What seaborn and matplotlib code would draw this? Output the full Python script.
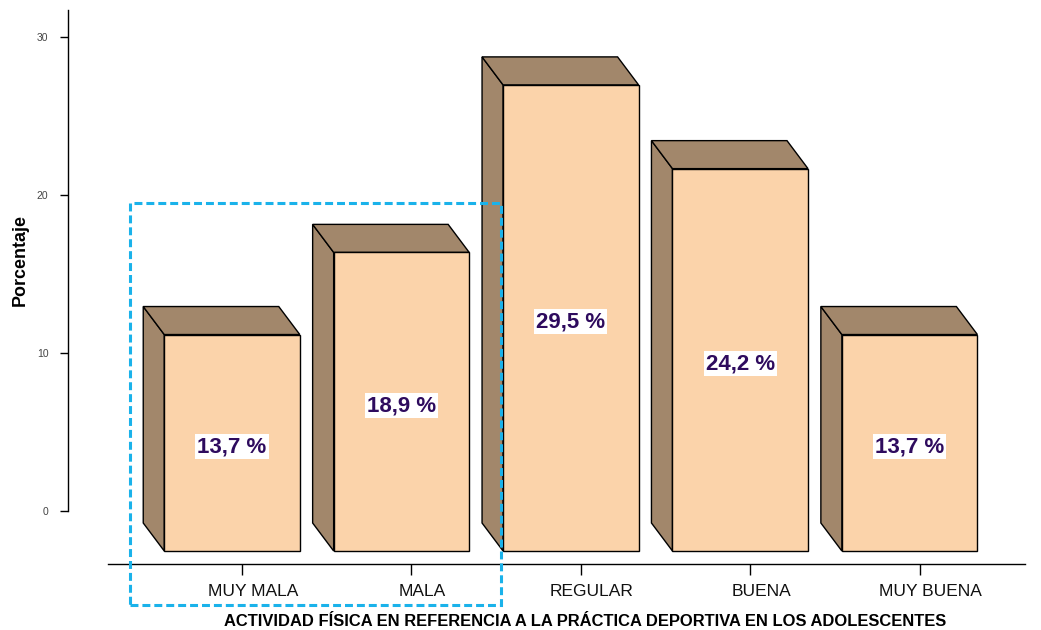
import matplotlib
matplotlib.use("Agg")
import matplotlib.pyplot as plt
import matplotlib.transforms as mtransforms
from matplotlib.patches import Polygon, Rectangle
import seaborn as sns
import pandas as pd

categories = ["MUY MALA", "MALA", "REGULAR", "BUENA", "MUY BUENA"]
values = [13.7, 18.9, 29.5, 24.2, 13.7]
y_ticks = [0, 10, 20, 30]
x_title = "ACTIVIDAD FÍSICA EN REFERENCIA A LA PRÁCTICA DEPORTIVA EN LOS ADOLESCENTES"
y_title = "Porcentaje"

sns.set_style("white")
plt.rcParams["font.family"] = ["Liberation Sans", "DejaVu Sans"]

W, H = 1041, 630
fig = plt.figure(figsize=(W / 100, H / 100), dpi=100)

FRONT = "#FBD3AA"
SIDE = "#A2876B"

# main axes (bars + category axis)
ax = fig.add_axes([108 / W, 66 / H, (1025 - 108) / W, (564 - 10) / H])
df = pd.DataFrame({"cat": categories, "val": values})
sns.barplot(data=df, x="cat", y="val", order=categories, color=FRONT,
            saturation=1, edgecolor="black", linewidth=1.0, width=0.8,
            ax=ax, zorder=3)
ax.set_xlim(-0.732, 4.681)
ax.set_ylim(-0.823, 34.24)

dx, dy = -0.124, 1.772  # 3D depth offset
down = mtransforms.ScaledTranslation(0, -4 / 100, fig.dpi_scale_trans)
for p, v in zip(ax.patches, values):
    x0 = p.get_x()
    x1 = x0 + p.get_width()
    h = p.get_height()
    side = Polygon([(x0, 0), (x0 + dx, dy), (x0 + dx, h + dy), (x0, h)],
                   closed=True, facecolor=SIDE, edgecolor="black", lw=1.0, zorder=2)
    top = Polygon([(x0, h), (x0 + dx, h + dy), (x1 + dx, h + dy), (x1, h)],
                  closed=True, facecolor=SIDE, edgecolor="black", lw=1.0, zorder=2)
    ax.add_patch(side)
    ax.add_patch(top)
    ax.text((x0 + x1) / 2, h / 2, f"{v:.1f} %".replace(".", ","), ha="center",
            va="center", fontsize=16, fontweight="bold", color="#2E0B5E", zorder=5,
            transform=ax.transData + down,
            bbox=dict(facecolor="white", edgecolor="none", pad=1.5))

for s in ["top", "right", "left"]:
    ax.spines[s].set_visible(False)
ax.spines["bottom"].set_color("black")
ax.spines["bottom"].set_linewidth(1.0)
ax.set_yticks([])
ax.set_xticks([i + 0.059 for i in range(len(categories))])
ax.set_xticklabels(categories, fontsize=12.5, color="#111111")
ax.tick_params(axis="x", length=8, width=1, color="black", direction="out", pad=6.5, bottom=True)
off = mtransforms.ScaledTranslation(11 / 100, 0, fig.dpi_scale_trans)
for lab in ax.get_xticklabels():
    lab.set_transform(lab.get_transform() + off)
ax.set_xlabel("")
ax.set_ylabel("")
ax.patch.set_alpha(0)

# value axis
ax2 = fig.add_axes([68 / W, 119 / H, 0.0001, (511 - 10) / H])
ax2.set_ylim(0, 31.71)
for s in ["top", "right", "bottom"]:
    ax2.spines[s].set_visible(False)
ax2.spines["left"].set_color("black")
ax2.spines["left"].set_linewidth(1.0)
ax2.set_xticks([])
ax2.set_yticks(y_ticks)
ax2.set_yticklabels([str(t) for t in y_ticks], fontsize=7.5, color="#444444")
ax2.tick_params(axis="y", length=6, width=1, color="black", direction="out", pad=8, left=True)
ax2.patch.set_alpha(0)

fig.text(20 / W, 1 - 260 / H, y_title, rotation=90, ha="center", va="center",
         fontsize=12.9, fontweight="bold", color="black")
fig.text(585 / W, 1 - 621 / H, x_title, ha="center", va="center",
         fontsize=11.9, fontweight="bold", color="black")

box = Rectangle((130 / W, 1 - 605 / H), 371 / W, 402 / H, transform=fig.transFigure,
                fill=False, edgecolor="#1AB2EA", lw=2.2, linestyle=(0, (2.6, 1.3)), zorder=10)
fig.add_artist(box)

fig.savefig("out.png", dpi=100)
